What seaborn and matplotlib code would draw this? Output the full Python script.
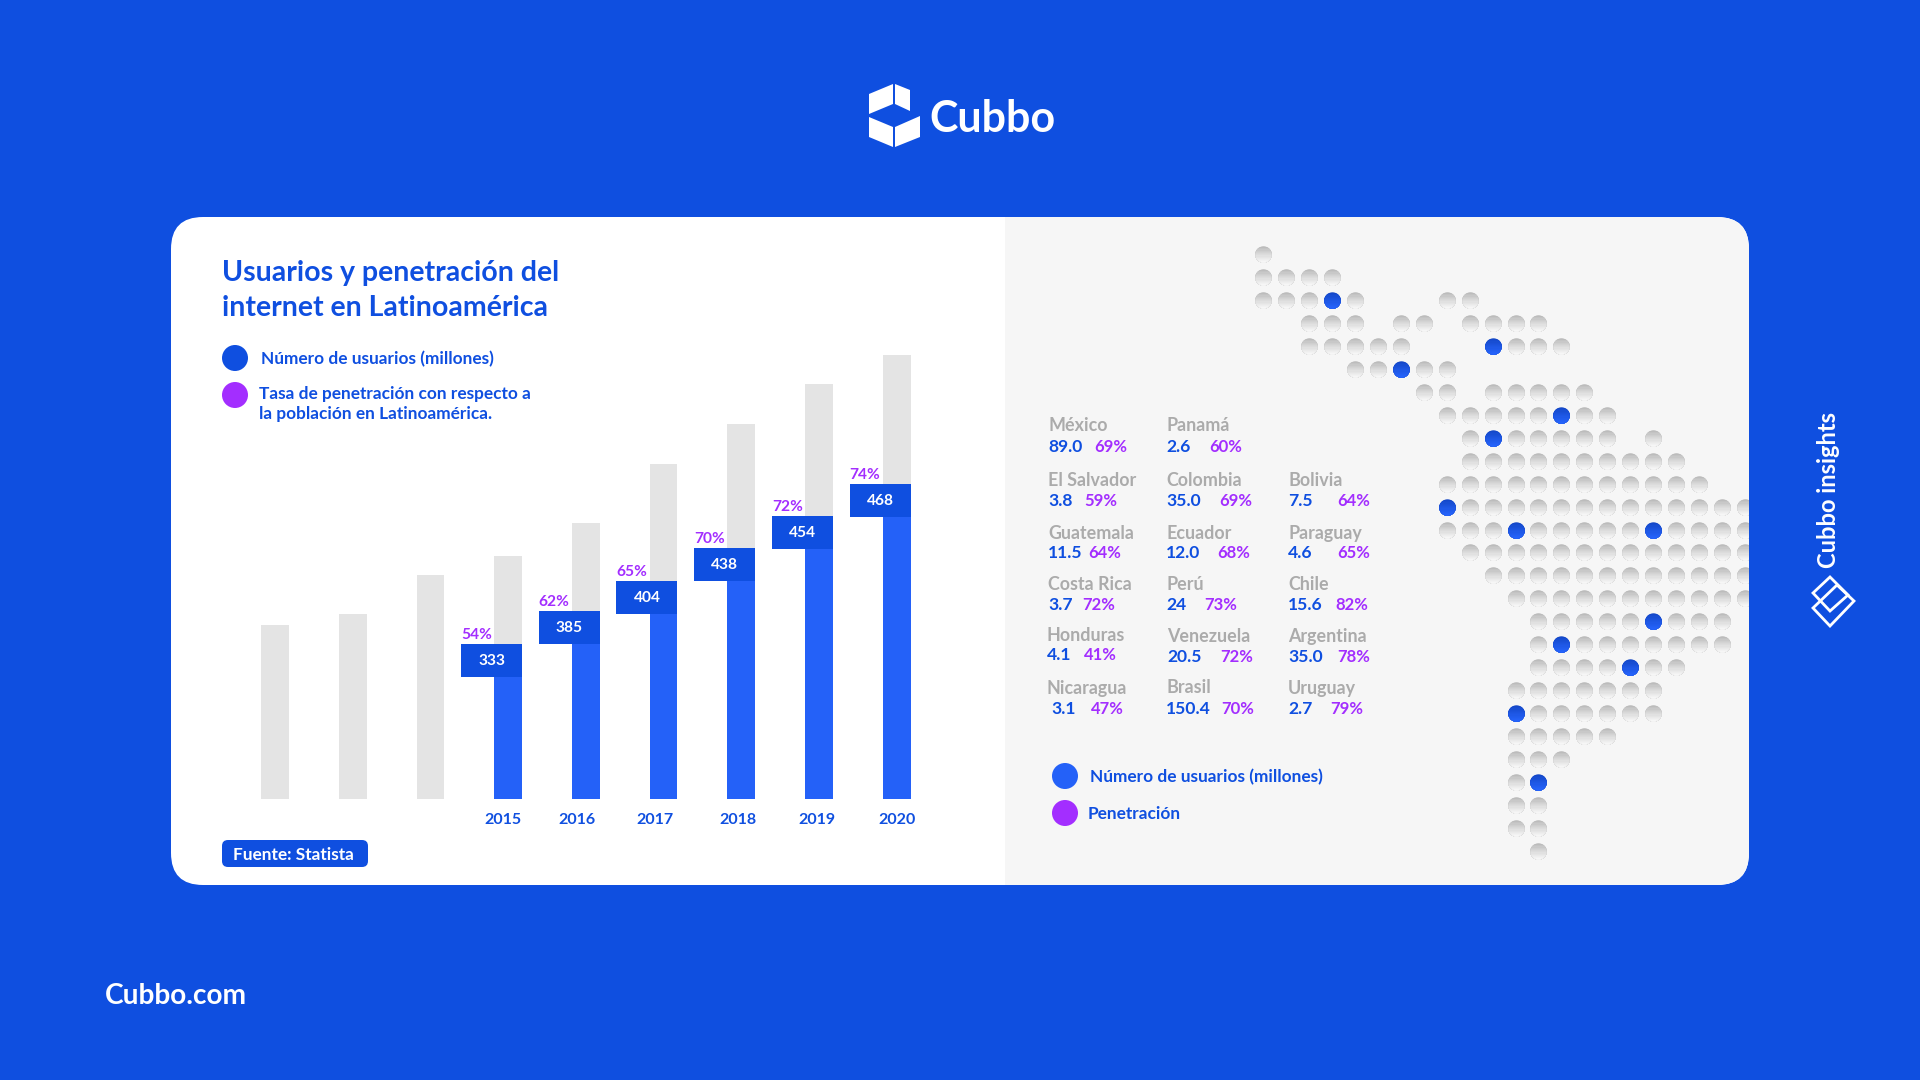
import numpy as np
import pandas as pd
import seaborn as sns
import matplotlib.pyplot as plt
from matplotlib.colors import to_rgb
from matplotlib.patches import Circle, FancyBboxPatch, Polygon, Rectangle
from matplotlib.path import Path

# Datos de las barras
anios = ['2012', '2013', '2014', '2015', '2016', '2017', '2018', '2019', '2020']
etiquetas_x = ['2015', '2016', '2017', '2018', '2019', '2020']
altura_gris = [173.5, 184.5, 224, 243, 276, 334.5, 375, 414.5, 443.5]
altura_azul = [None, None, None, 121.3, 155, 185, 218, 250, 281.7]
usuarios = [333, 385, 404, 438, 454, 468]
penetracion = ['54%', '62%', '65%', '70%', '72%', '74%']

# Datos por pais
paises = ['México', 'Panamá', 'El Salvador', 'Colombia', 'Bolivia', 'Guatemala', 'Ecuador', 'Paraguay',
          'Costa Rica', 'Perú', 'Chile', 'Honduras', 'Venezuela', 'Argentina', 'Nicaragua', 'Brasil', 'Uruguay']
pais_usuarios = ['89.0', '2.6', '3.8', '35.0', '7.5', '11.5', '12.0', '4.6',
                 '3.7', '24', '15.6', '4.1', '20.5', '35.0', '3.1', '150.4', '2.7']
pais_penetracion = ['69%', '60%', '59%', '69%', '64%', '64%', '68%', '65%',
                    '72%', '73%', '82%', '41%', '72%', '78%', '47%', '70%', '79%']

# Mapa de puntos: tramos de columnas por fila y puntos azules (fila, columna)
mapa_tramos = [[(0, 0)], [(0, 3)], [(0, 4), (8, 9)], [(2, 4), (6, 7), (9, 12)], [(2, 6), (10, 13)],
               [(4, 8)], [(7, 8), (10, 14)], [(8, 15)], [(9, 15), (17, 17)], [(9, 18)], [(8, 19)],
               [(8, 21)], [(8, 21)], [(9, 21)], [(10, 21)], [(11, 21)], [(12, 20)], [(12, 20)],
               [(12, 18)], [(11, 17)], [(11, 17)], [(11, 15)], [(11, 13)], [(11, 12)], [(11, 12)],
               [(11, 12)], [(12, 12)]]
mapa_azul = [(2, 3), (4, 10), (5, 6), (7, 13), (8, 10), (11, 8), (12, 11), (12, 17),
             (16, 17), (17, 13), (18, 16), (20, 11), (23, 12)]

# Colores
AZUL_FONDO = '#0F4FE0'
AZUL_BARRA = '#2461F8'
MORADO = '#A32EFF'
GRIS_BARRA = '#E4E4E4'
GRIS_PANEL = '#F6F6F6'
GRIS_TEXTO = '#ABABAB'

sns.set_theme(style='white')
plt.rcParams['font.family'] = ['Lato', 'DejaVu Sans']

fig = plt.figure(figsize=(19.2, 10.8), dpi=100, facecolor=AZUL_FONDO)


def ejes_px(x0, y0, x1, y1):
    # crea ejes a partir de pixeles de la imagen
    ax = fig.add_axes([x0 / 1920, 1 - y1 / 1080, (x1 - x0) / 1920, (y1 - y0) / 1080])
    ax.patch.set_alpha(0)
    return ax


# Fondo en coordenadas de pixel
bg = ejes_px(0, 0, 1920, 1080)
bg.set_xlim(0, 1920)
bg.set_ylim(1080, 0)
bg.axis('off')


def texto(x, y, s, size, color=AZUL_FONDO, weight='bold', ha='left', **kw):
    bg.text(x, y + 1.5, s, fontsize=size, color=color, fontweight=weight, ha=ha, va='center', **kw)


tarjeta = FancyBboxPatch((171, 217), 1578, 668, boxstyle='round,pad=0,rounding_size=32', fc='white', ec='none')
bg.add_patch(tarjeta)
panel = Rectangle((1005, 217), 744, 668, fc=GRIS_PANEL, ec='none')
bg.add_patch(panel)
panel.set_clip_path(tarjeta)

# Logo
for cara in ([(869, 94), (893, 84), (893, 104), (869, 114)],
             [(895, 84), (910, 90), (910, 111), (895, 104)],
             [(869, 117), (893, 127), (893, 147), (869, 137)],
             [(895, 127), (920, 116), (920, 137), (895, 147)]):
    bg.add_patch(Polygon(cara, fc='white', ec='none'))
texto(929, 117.5, 'Cubbo', 31, color='white', weight='bold')

# Titulo y leyenda
texto(222, 272, 'Usuarios y penetración del', 20.5)
texto(222, 307, 'internet en Latinoamérica', 20.5)
bg.add_patch(Circle((235, 358), 13, fc=AZUL_FONDO, ec='none'))
bg.add_patch(Circle((235, 395), 13, fc=MORADO, ec='none'))
texto(261, 357.5, 'Número de usuarios (millones)', 12.4)
texto(259, 392, 'Tasa de penetración con respecto a', 12.4)
texto(259, 413, 'la población en Latinoamérica.', 12.4)

# Fuente
bg.add_patch(FancyBboxPatch((222, 840), 146, 27, boxstyle='round,pad=0,rounding_size=6', fc=AZUL_FONDO, ec='none'))
texto(233, 853, 'Fuente: Statista', 12.4, color='white')

# Tabla de paises
fila_nombre = [424, 424, 479, 479, 479, 532, 532, 532, 583, 583, 583, 634, 635, 635, 687, 686, 687]
fila_valor = [445, 445.5, 499.5, 499.5, 499.5, 551.5, 551.5, 551.5, 603, 603, 603, 653.5, 655.5, 655.5, 707, 707, 707]
x_nombre = [1048, 1166, 1048, 1166, 1288, 1048, 1166, 1288, 1048, 1166, 1288, 1047, 1167, 1288, 1047, 1166, 1288]
x_valor = [1048, 1166, 1048, 1166, 1288, 1048, 1166, 1288, 1048, 1166, 1288, 1047, 1167, 1288, 1051, 1166, 1288]
x_pct = [1094, 1209, 1084, 1219, 1337, 1088, 1217, 1337, 1082, 1204, 1335, 1084, 1220, 1337, 1091, 1221, 1330]
for i, pais in enumerate(paises):
    texto(x_nombre[i], fila_nombre[i], pais, 12.9, color=GRIS_TEXTO)
    texto(x_valor[i], fila_valor[i], pais_usuarios[i], 12.6)
    texto(x_pct[i], fila_valor[i], pais_penetracion[i], 12, color=MORADO)

bg.add_patch(Circle((1065, 776), 13, fc=AZUL_BARRA, ec='none'))
bg.add_patch(Circle((1065, 813), 13, fc=MORADO, ec='none'))
texto(1090, 775.5, 'Número de usuarios (millones)', 12.4)
texto(1088, 812.5, 'Penetración', 12.4)

# Textos exteriores
texto(105, 994, 'Cubbo.com', 20.2, color='white')
texto(1829, 488, 'Cubbo insights', 17, color='white', ha='center', rotation=90)
for rombo in ([(1830, 577), (1848, 595), (1830, 611), (1813, 593)],
              [(1813, 608), (1837, 585), (1854, 601), (1830, 626)]):
    bg.add_patch(Polygon(rombo, fc='none', ec='white', lw=2))

# Grafico de barras
ax = ejes_px(236.25, 341, 935.55, 798.7)
df = pd.DataFrame({'anio': anios, 'total': altura_gris, 'azul': altura_azul})
ancho_barra = 0.357
ancho_caja = 0.785
alto_caja = 33
sns.barplot(data=df, x='anio', y='total', color=GRIS_BARRA, saturation=1, width=ancho_barra, linewidth=0, ax=ax)
sns.barplot(data=df, x='anio', y='azul', color=AZUL_BARRA, saturation=1, width=ancho_barra, linewidth=0, ax=ax)

# Cajas con el numero de usuarios y el porcentaje encima
desde = len(anios) - len(usuarios)
for i, valor in enumerate(usuarios):
    pos = desde + i
    base = df['azul'][pos]
    izq = pos + ancho_barra / 2 - ancho_caja
    ax.bar(izq, alto_caja, bottom=base, width=ancho_caja, align='edge', color=AZUL_FONDO, linewidth=0, zorder=3)
    ax.text(izq + ancho_caja / 2, base + alto_caja / 2 - 0.5, str(valor), color='white', fontsize=11.2,
            fontweight='bold', ha='center', va='center', zorder=4)
    ax.text(izq, base + alto_caja + 9, penetracion[i], color=MORADO, fontsize=11.2,
            fontweight='bold', ha='left', va='center', zorder=4)

ax.set_xlim(-0.5, 8.5)
ax.set_ylim(0, 457.7)
ax.set_xlabel('')
ax.set_ylabel('')
ax.set_yticks([])
# los anios no van centrados bajo su barra en la imagen
ax.set_xticks([2.93, 3.89, 4.89, 5.96, 6.97, 8.0])
ax.set_xticklabels(etiquetas_x, fontsize=11.5, fontweight='bold', color=AZUL_FONDO)
ax.tick_params(axis='x', length=0, pad=10)
sns.despine(ax=ax, left=True, bottom=True)

# Mapa de puntos
registros = []
for fila, tramos in enumerate(mapa_tramos):
    for inicio, fin in tramos:
        for col in range(inicio, fin + 1):
            registros.append({'fila': fila, 'col': col, 'azul': (fila, col) in mapa_azul})
puntos = pd.DataFrame(registros)

mapa = ejes_px(1005, 217, 1749, 885)
RADIO = 8.2
CAPAS = 14


def mezcla(a, b, t):
    a, b = to_rgb(a), to_rgb(b)
    return tuple(a[k] + (b[k] - a[k]) * t for k in range(3))


def marcador_inferior(corte):
    # parte del circulo por debajo de y=corte, con un punto en (1, 1) para que no se reescale
    a = np.arcsin(corte)
    ang = np.linspace(np.pi - a, 2 * np.pi + a, 40)
    segmento = Path(np.column_stack([np.cos(ang), np.sin(ang)]))
    return Path.make_compound_path(segmento, Path([(1, 1), (1, 1)]))


# cada punto se dibuja por capas horizontales para dar el degradado
for es_azul, arriba, abajo in ((False, '#B4B4B4', '#F6F6F6'), (True, '#1244C2', '#2563FA')):
    grupo = puntos[puntos['azul'] == es_azul]
    for c in range(CAPAS):
        t = c / (CAPAS - 1)
        antes = len(mapa.collections)
        sns.scatterplot(data=grupo, x='col', y='fila', s=(2 * RADIO * 0.72) ** 2, marker=marcador_inferior(1 - 1.9 * t),
                        color=mezcla(arriba, abajo, t ** 0.8), linewidth=0, ax=mapa, legend=False)
        mapa.collections[antes].set_clip_path(tarjeta)
mapa.set_xlim(-11.26, 21.18)
mapa.set_ylim(27.50, -1.63)
mapa.axis('off')

fig.savefig('out.png', dpi=100, facecolor=AZUL_FONDO)
